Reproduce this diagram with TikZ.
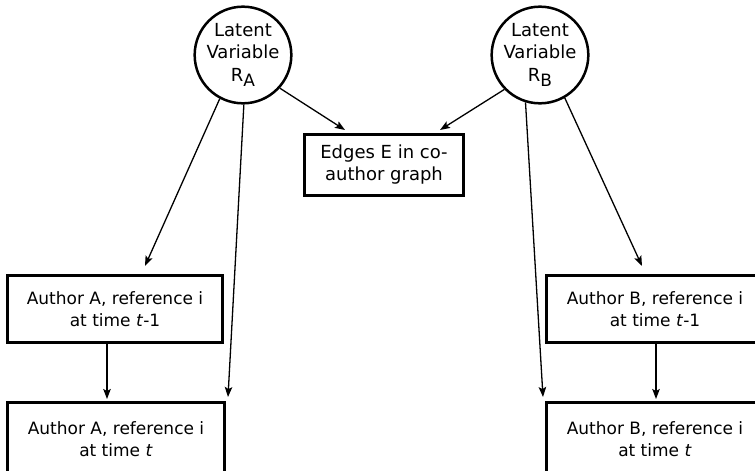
\documentclass[tikz,border=0pt]{standalone}
\usepackage{fontspec}
\setmainfont{DejaVu Sans}
\usetikzlibrary{calc,arrows.meta}
\newcommand{\latsub}[1]{\raisebox{-5.5pt}{\fontsize{17}{17}\selectfont #1}}
\tikzset{
    latent/.style={circle,draw=black,line width=2.5pt,minimum size=89.5pt,inner sep=0pt,
        align=center,font=\fontsize{18}{22.5}\selectfont},
    obsbox/.style={rectangle,draw=black,line width=3pt,minimum width=215pt,minimum height=67pt,
        inner sep=0pt,align=center,font=\fontsize{17}{22}\selectfont},
    edgebox/.style={obsbox,minimum width=159pt,minimum height=61pt,font=\fontsize{18}{22}\selectfont},
    link/.style={black,line width=1.3pt,-{Stealth[length=10pt,width=7.5pt,inset=2pt]}}
}

\begin{document}
\begin{tikzpicture}[x=1pt,y=-1pt]
\clip(0,0)rectangle(755,471);
\useasboundingbox(0,0)rectangle(755,471);
% latent variables
\node[latent](ra) at (243,55){Latent\\Variable\\R\latsub{A}};
\node[latent](rb) at (540,55){Latent\\Variable\\R\latsub{B}};
% observed
\node[edgebox](edges) at (384,165){Edges E in co-\\author graph};
\node[obsbox](a1) at (115,309){Author A, reference i\\at time \textit{t}-1};
\node[obsbox,minimum width=217pt,minimum height=73pt](a2) at (116,439){Author A, reference i\\at time \textit{t}};
\node[obsbox,minimum width=217pt](b1) at (655,309){Author B, reference i\\at time \textit{t}-1};
\node[obsbox,minimum width=217pt,minimum height=73pt](b2) at (655,439){Author B, reference i\\at time \textit{t}};

\draw[link](ra.242)--($(a1.north)+(30,-8)$);
\draw[link](ra.271)--($(a2.north east)+(2,-4)$);
\draw[link](ra.318)--($(edges.north)+(-39,-3)$);
\draw[link](rb.224)--($(edges.north)+(56,-3)$);
\draw[link](rb.253)--($(b2.north west)+(-2,-4)$);
\draw[link](rb.300)--($(b1.north)+(-13,-8)$);
\draw[link]($(a1.south)+(-8,0)$)--($(a2.north)+(-9,-2)$);
\draw[link]($(b1.south)+(1,0)$)--($(b2.north)+(1,-2)$);
\end{tikzpicture}
\end{document}
